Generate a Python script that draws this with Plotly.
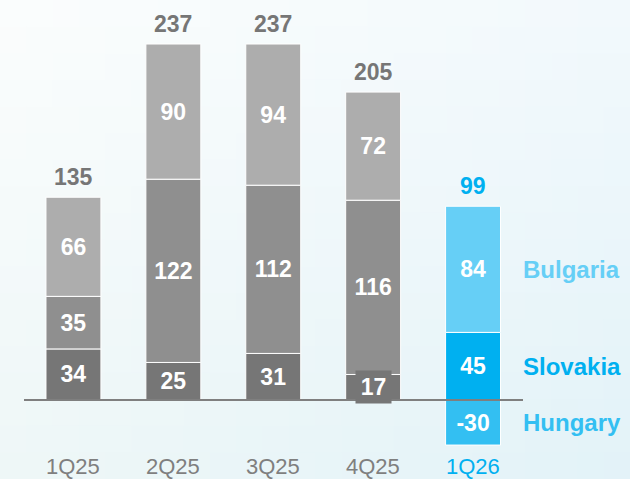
import plotly.graph_objects as go

categories = ["1Q25", "2Q25", "3Q25", "4Q25", "1Q26"]
hungary = [34, 25, 31, 17, -30]
slovakia = [35, 122, 112, 116, 45]
bulgaria = [66, 90, 94, 72, 84]
series_names = ["Hungary", "Slovakia", "Bulgaria"]

grey_cols = {"Hungary": "#767676", "Slovakia": "#8f8f8f", "Bulgaria": "#adadad"}
blue_cols = {"Hungary": "#33bff2", "Slovakia": "#00b0f0", "Bulgaria": "#66cff6"}
FONT = "Liberation Sans, Arial, sans-serif"

W, H = 630, 479
ML, MR, MT, MB = 24, 107, 10, 0

x = list(range(len(categories)))
fig = go.Figure()
data = {"Hungary": hungary, "Slovakia": slovakia, "Bulgaria": bulgaria}
annotations = []
for name in series_names:
    vals = data[name]
    cols = [grey_cols[name]] * (len(categories) - 1) + [blue_cols[name]]
    small = [abs(v) < 20 for v in vals]
    fig.add_trace(go.Bar(
        x=x, y=vals, name=name, width=0.55,
        marker=dict(color=cols, line=dict(color="white", width=1)),
        text=["" if s else str(v) for v, s in zip(vals, small)], textposition="inside",
        insidetextanchor="middle", constraintext="none",
        textfont=dict(color="white", size=23, family=FONT, weight="bold"),
        hoverinfo="skip",
    ))
    # labels of thin segments get a box of the segment colour
    for i, (v, s) in enumerate(zip(vals, small)):
        if s:
            base = 0
            for other in series_names[:series_names.index(name)]:
                ov = data[other][i]
                if (ov > 0) == (v > 0):
                    base += ov
            annotations.append(dict(x=i, y=base + v / 2, text=f"<b>{v}</b>", showarrow=False,
                                    bgcolor=cols[i], borderpad=0, width=35, height=32,
                                    font=dict(size=23, color="white", family=FONT)))

for i, c in enumerate(categories):
    pos = sum(v for v in (hungary[i], slovakia[i], bulgaria[i]) if v > 0)
    tot = hungary[i] + slovakia[i] + bulgaria[i]
    col = "#00b0f0" if i == len(categories) - 1 else "#767676"
    annotations.append(dict(x=i, y=pos, text=f"<b>{tot}</b>", showarrow=False,
                            yanchor="bottom", yshift=5,
                            font=dict(size=23, color=col, family=FONT)))
    annotations.append(dict(x=i, y=-44.6, text=c, showarrow=False, yanchor="middle",
                            font=dict(size=22, color="#00b0f0" if i == len(categories) - 1 else "#7f7f7f",
                                      family=FONT)))

# right-side series labels for the last bar
last = len(categories) - 1
mids = {
    "Hungary": hungary[last] / 2,
    "Slovakia": slovakia[last] / 2,
    "Bulgaria": slovakia[last] + bulgaria[last] / 2,
}
for name in series_names:
    annotations.append(dict(x=4.5, y=mids[name], text=f"<b>{name}</b>", showarrow=False,
                            xanchor="left", xshift=-2,
                            font=dict(size=24, color=blue_cols[name], family=FONT)))

# soft background gradient (paper coordinates extended into margins)
def hex2rgb(h):
    h = h.lstrip("#")
    return [int(h[k:k + 2], 16) for k in (0, 2, 4)]

tl, tr, bl, br = (hex2rgb(c) for c in ("#fbfdfd", "#f2f9fc", "#eef7f7", "#e2f2f8"))
pw, ph = W - ML - MR, H - MT - MB
shapes = []
NX, NY = 24, 18
for ix in range(NX):
    for iy in range(NY):
        u = (ix + 0.5) / NX
        t = (iy + 0.5) / NY
        rgb = [round((1 - u) * (1 - t) * a + u * (1 - t) * b + (1 - u) * t * c + u * t * d)
               for a, b, c, d in zip(tl, tr, bl, br)]
        px0, px1 = ix * W / NX, (ix + 1) * W / NX + 1
        py0, py1 = iy * H / NY, (iy + 1) * H / NY + 1
        shapes.append(dict(type="rect", xref="paper", yref="paper", layer="below",
                           x0=(px0 - ML) / pw, x1=(px1 - ML) / pw,
                           y0=1 - (py1 - MT) / ph, y1=1 - (py0 - MT) / ph,
                           fillcolor="rgb({},{},{})".format(*rgb), line=dict(width=0)))

shapes.append(dict(type="line", xref="x", yref="y", x0=-0.495, x1=4.5, y0=0, y1=0,
                   line=dict(color="#7f7f7f", width=2), layer="above"))

fig.update_layout(
    barmode="relative",
    width=W, height=H,
    margin=dict(l=ML, r=MR, t=MT, b=MB),
    paper_bgcolor="#eef6f9", plot_bgcolor="rgba(0,0,0,0)",
    showlegend=False,
    xaxis=dict(range=[-0.495, 4.5], visible=False),
    yaxis=dict(range=[-52.6, 259.65], visible=False),
    annotations=annotations,
    shapes=shapes,
)

fig.write_html("out.html", config={"displayModeBar": False},
               post_script="document.body.style.margin='0';document.body.style.overflow='hidden';")
